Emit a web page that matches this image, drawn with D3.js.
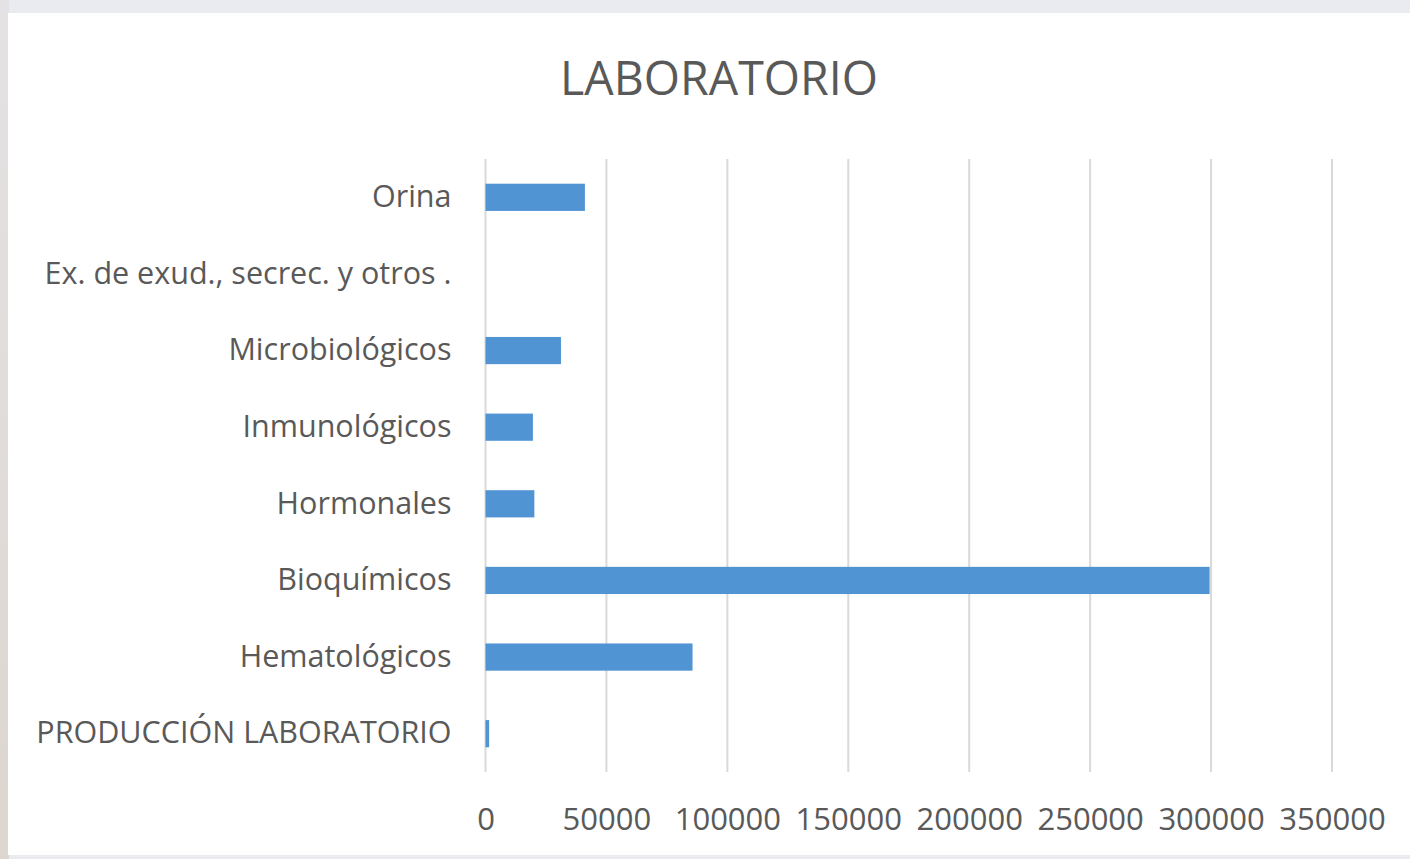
<!DOCTYPE html>
<html><head><meta charset="utf-8">
<script src="https://d3js.org/d3.v7.min.js"></script>
<style>
html,body{margin:0;padding:0;background:#e6e7ec;}
svg{display:block;}
</style></head>
<body>
<svg id="chart" width="1410" height="859"></svg>
<script>
const categories = ["Orina","Ex. de exud., secrec. y otros .","Microbiológicos","Inmunológicos","Hormonales","Bioquímicos","Hematológicos","PRODUCCIÓN LABORATORIO"];
const values = [41100, 0, 31200, 19600, 20200, 299400, 85600, 1500];
const xTicks = [0,50000,100000,150000,200000,250000,300000,350000];
const title = "LABORATORIO";

const svg = d3.select("#chart");
const defs = svg.append("defs");
const lg = defs.append("linearGradient").attr("id","bgl").attr("x1",0).attr("x2",0).attr("y1",0).attr("y2",1);
lg.append("stop").attr("offset","0%").attr("stop-color","#e4e2e4");
lg.append("stop").attr("offset","100%").attr("stop-color","#ddd6cf");
svg.append("rect").attr("width",1410).attr("height",859).attr("fill","#e9ebf1");
svg.append("rect").attr("x",0).attr("y",0).attr("width",9).attr("height",859).attr("fill","url(#bgl)");
svg.append("rect").attr("x",8).attr("y",13).attr("width",1402).attr("height",842).attr("fill","#ffffff");

const x = d3.scaleLinear().domain([0,350000]).range([485.5,1332]);
const y = d3.scaleBand().domain(categories).range([159,772]).paddingInner(0.645).paddingOuter(0.3225);

const font = "'Open Sans', sans-serif";
// grid
svg.append("g").selectAll("line").data(xTicks).join("line")
  .attr("x1",d=>x(d)).attr("x2",d=>x(d)).attr("y1",159).attr("y2",772)
  .attr("stroke","#d9d9d9").attr("stroke-width",2);

// bars
svg.append("g").selectAll("rect").data(categories).join("rect")
  .attr("x",x(0)).attr("y",d=>y(d)).attr("height",y.bandwidth())
  .attr("width",(d,i)=>x(values[i])-x(0))
  .attr("fill","#5094d4");

// y axis
const yAxis = d3.axisLeft(y).tickSize(0).tickPadding(34);
const gy = svg.append("g").attr("transform",`translate(${x(0)},0)`).call(yAxis);
gy.select(".domain").remove();
gy.selectAll("text").attr("font-family",font).attr("font-size",30.5).attr("fill","#595959");

// x axis
const xAxis = d3.axisBottom(x).tickValues(xTicks).tickFormat(d3.format("d")).tickSize(0).tickPadding(36);
const gx = svg.append("g").attr("transform",`translate(0,772)`).call(xAxis);
gx.select(".domain").remove();
gx.selectAll("text").attr("font-family",font).attr("font-size",31).attr("fill","#595959");

// title
svg.append("text").attr("x",719).attr("y",95).attr("text-anchor","middle")
  .attr("font-family",font).attr("font-size",48).attr("fill","#595959")
  .attr("textLength",318).attr("lengthAdjust","spacingAndGlyphs").text(title);
</script>
</body></html>
